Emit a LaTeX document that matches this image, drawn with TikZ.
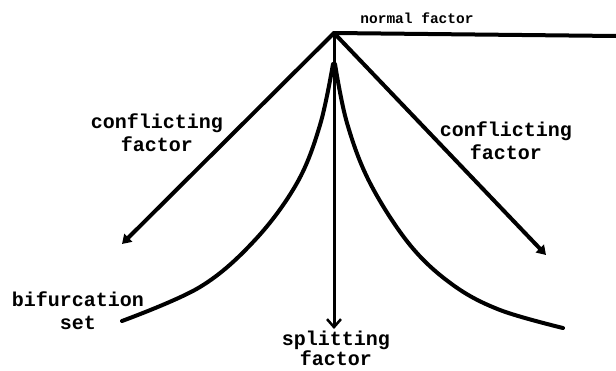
\documentclass[tikz,border=0pt]{standalone}
\usepackage{fontspec}
\setmonofont{Liberation Mono}
\usetikzlibrary{arrows.meta}
\begin{document}
\begin{tikzpicture}[x=1pt,y=-1pt,
  lbl/.style={font=\ttfamily\bfseries\fontsize{20}{23}\selectfont,inner sep=0pt,align=center},
  smalllbl/.style={font=\ttfamily\bfseries\fontsize{14.5}{16}\selectfont,inner sep=0pt},
  heavy/.style={line width=4pt,line cap=round,line join=round},
  fatarrow/.style={heavy,-{Triangle[length=9pt,width=11pt]}},
  thinarrow/.style={line width=3pt,-{Straight Barb[length=8pt,width=14pt,line width=2.5pt]}}]
\useasboundingbox (0,0) rectangle (616,370);
\coordinate (apex) at (334,33);
\coordinate (nend) at (616,36);
\coordinate (ltip) at (122,244);
\coordinate (rtip) at (546,255);
\coordinate (stip) at (334,329);
% normal factor
\draw[heavy,line cap=butt] (apex) -- (nend);
\node[smalllbl] (nf) at (417,18) {normal factor};
% conflicting factors
\draw[fatarrow] (apex) -- (ltip);
\draw[fatarrow] (apex) -- (rtip);
% splitting factor
\draw[thinarrow] (apex) -- (stip);
% bifurcation set (cusp)
\draw[heavy] plot[smooth,tension=0.6] coordinates {(333,64) (320,125) (297,183) (255,240) (200,287) (122,321)};
\draw[heavy] plot[smooth,tension=0.6] coordinates {(335,64) (347,123) (370,183) (410,245) (453,285) (500,310) (563,328)};
% labels
\node[lbl] (cl) at (157,133) {conflicting\\factor};
\node[lbl] (cr) at (506,141) {conflicting\\factor};
\node[lbl] (bs) at (78,311) {bifurcation\\set};
\node[lbl] (sf) at (336,348) {splitting\\[-3pt]factor};
\end{tikzpicture}
\end{document}
